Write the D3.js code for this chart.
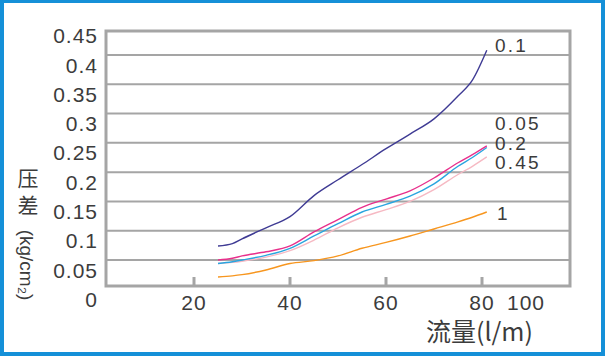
<!DOCTYPE html>
<html><head><meta charset="utf-8">
<script src="https://cdn.jsdelivr.net/npm/d3@7"></script>
<style>html,body{margin:0;padding:0;background:#fff;}svg{display:block;}</style>
</head><body>
<script>
// ---- data ----
const flowX = [25, 28, 30, 35, 40, 45, 50, 55, 60, 65, 70, 75, 78, 81];
const s01  = [0.074,0.078,0.086,0.105,0.124,0.160,0.187,0.213,0.240,0.265,0.291,0.330,0.357,0.408];
const s005 = [0.050,0.053,0.057,0.064,0.074,0.098,0.119,0.140,0.154,0.168,0.190,0.216,0.230,0.245];
const s02  = [0.044,0.047,0.050,0.058,0.070,0.091,0.112,0.132,0.145,0.159,0.180,0.210,0.225,0.242];
const s045 = [0.044,0.046,0.048,0.055,0.066,0.084,0.105,0.123,0.136,0.150,0.170,0.196,0.210,0.226];
const s1   = [0.021,0.023,0.025,0.033,0.044,0.049,0.057,0.070,0.080,0.091,0.103,0.115,0.123,0.132];
const seriesNames = ["0.1","0.05","0.2","0.45","1"];
const yTicks = [0,0.05,0.1,0.15,0.2,0.25,0.3,0.35,0.4,0.45];
const yTickLabels = ["0","0.05","0.1","0.15","0.2","0.25","0.3","0.35","0.4","0.45"];
const xTicks = [20,40,60,80];
const xTickLabels = ["20","40","60","80"];
const xExtraLabel = "100";
const xTitle = "流量(l/m)";
const yTitle = "压差";
const yUnit = "(kg/cm₂)";

const W = 605, H = 356;
const svg = d3.select("body").append("svg").attr("width", W).attr("height", H);
svg.append("rect").attr("width", W).attr("height", H).attr("fill", "#1590d8");
svg.append("rect").attr("x", 4).attr("y", 3).attr("width", W - 8).attr("height", H - 7).attr("fill", "#fff");

const x = d3.scaleLinear().domain([0, 100]).range([98, 578]);
const y = d3.scaleLinear().domain([0, 0.45]).range([289.3, 25.7]);
const frame = {x0: 106, y0: 31, x1: 570, y1: 286};
const grey = "#a5a5a5";
const txt = "#3c3c3c";
const font = "'Liberation Sans', Arial, sans-serif";

// gridlines
svg.append("g").selectAll("line").data(yTicks.filter(v => v > 0 && v < 0.45)).join("line")
  .attr("x1", frame.x0).attr("x2", frame.x1)
  .attr("y1", d => y(d)).attr("y2", d => y(d))
  .attr("stroke", grey).attr("stroke-width", 2);
// x tick marks
svg.append("g").selectAll("rect").data(xTicks).join("rect")
  .attr("x", d => x(d) - 1.5).attr("y", 277).attr("width", 3).attr("height", frame.y1 - 277)
  .attr("fill", grey);
// frame
svg.append("rect").attr("x", frame.x0).attr("y", frame.y0)
  .attr("width", frame.x1 - frame.x0).attr("height", frame.y1 - frame.y0)
  .attr("fill", "none").attr("stroke", grey).attr("stroke-width", 3);

// y tick labels
svg.append("g").selectAll("text").data(yTicks).join("text")
  .attr("x", 98).attr("y", d => y(d) + 10).attr("dy", "0.36em")
  .attr("text-anchor", "end").attr("font-family", font).attr("font-size", 21)
  .attr("letter-spacing", 1).attr("fill", txt)
  .text((d, i) => yTickLabels[i]);
// x tick labels
svg.append("g").selectAll("text").data(xTicks).join("text")
  .attr("x", d => x(d)).attr("y", 302).attr("dy", "0.36em")
  .attr("text-anchor", "middle").attr("font-family", font).attr("font-size", 21)
  .attr("letter-spacing", 1).attr("fill", txt)
  .text((d, i) => xTickLabels[i]);
svg.append("text").attr("x", x(80) + 25).attr("y", 302).attr("dy", "0.36em")
  .attr("font-family", font).attr("font-size", 21).attr("letter-spacing", 1).attr("fill", txt)
  .text(xExtraLabel);

// titles
svg.append("text").attr("x", 426).attr("y", 332).attr("dy", "0.36em")
  .attr("font-family", "'Noto Sans CJK SC', " + font).attr("font-size", 25).attr("fill", txt)
  .text(xTitle);
svg.append("text").attr("x", 28).attr("y", 168)
  .style("writing-mode", "vertical-rl").attr("letter-spacing", 6)
  .attr("font-family", "'Noto Sans CJK SC', sans-serif").attr("font-size", 21).attr("fill", txt)
  .text(yTitle);
svg.append("text").attr("transform", "translate(20,265) rotate(90)")
  .attr("text-anchor", "middle").attr("font-family", font).attr("font-size", 19)
  .attr("fill", txt).text(yUnit);

// series
const allSeries = [s01, s005, s02, s045, s1];
const colors = ["#3f3b94", "#e8308c", "#2aa5df", "#f6b9c3", "#f7961f"];
const order = [3, 4, 2, 1, 0];
const line = d3.line().x(d => x(d[0])).y(d => y(d[1])).curve(d3.curveMonotoneX);
order.forEach(i => {
  svg.append("path").datum(flowX.map((v, j) => [v, allSeries[i][j]]))
    .attr("d", line).attr("fill", "none").attr("stroke", colors[i]).attr("stroke-width", 1.4);
});

// series labels
const labelY = [45, 123, 143, 162, 213];
const labelX = [495, 495, 495, 495, 497];
svg.append("g").selectAll("text").data(seriesNames).join("text")
  .attr("x", (d, i) => labelX[i]).attr("y", (d, i) => labelY[i]).attr("dy", "0.36em")
  .attr("font-family", font).attr("font-size", 19).attr("letter-spacing", 2.2).attr("fill", txt)
  .text(d => d);
</script>
</body></html>
